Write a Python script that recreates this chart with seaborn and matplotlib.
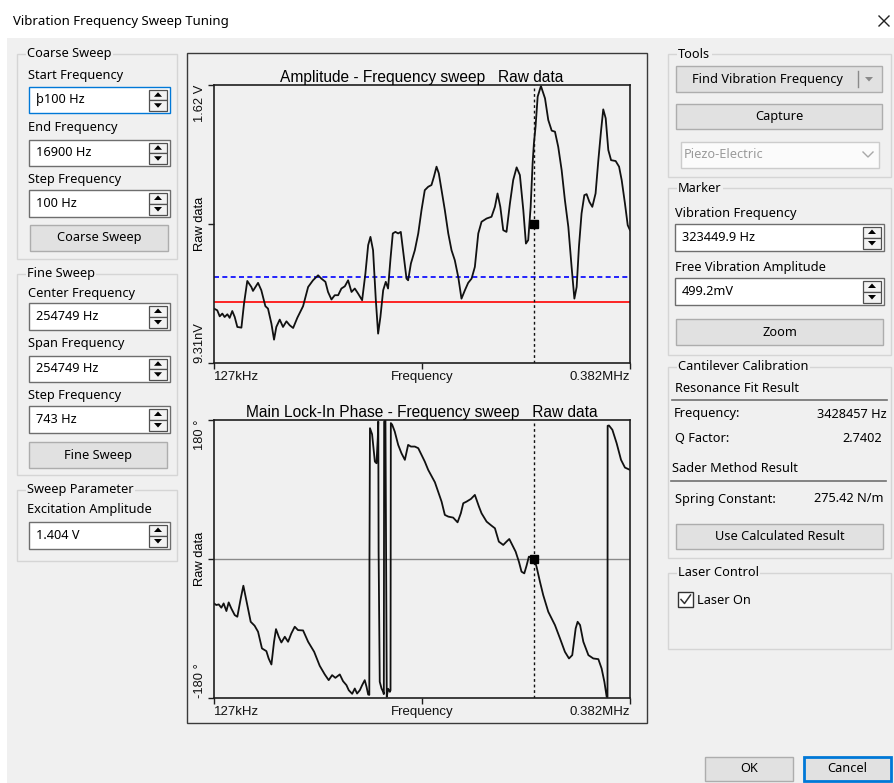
import numpy as np
import pandas as pd
import matplotlib
matplotlib.use('Agg')
import matplotlib.pyplot as plt
import seaborn as sns
from matplotlib.patches import Rectangle, Polygon

# 진폭 스윕 데이터 (kHz, mV)
amp_freq_khz = [127.0, 129.0, 130.5, 132.1, 133.5, 135.2, 136.6, 138.2, 139.7, 141.3,
                143.8, 145.4, 147.4, 149.9, 150.9, 154.0, 156.0, 158.5, 160.1, 162.2,
                163.8, 165.2, 167.3, 169.3, 171.4, 173.4, 175.5, 178.1, 181.6, 184.7,
                187.7, 190.8, 192.8, 195.3, 196.9, 199.0, 201.0, 203.1, 205.1, 207.2,
                209.2, 211.3, 213.3, 215.3, 217.8, 219.8, 221.5, 222.9, 224.5, 226.2,
                227.6, 229.0, 230.7, 232.3, 233.7, 235.2, 236.6, 238.2, 239.9, 241.5,
                243.6, 245.0, 246.0, 247.7, 250.1, 252.2, 254.2, 256.2, 258.3, 260.3,
                261.8, 263.4, 264.8, 266.5, 268.5, 270.6, 272.6, 274.6, 276.7, 278.7,
                280.8, 282.8, 284.9, 286.9, 289.0, 291.0, 294.1, 297.1, 299.2, 300.8,
                302.5, 304.3, 306.3, 308.4, 310.4, 312.5, 314.5, 316.6, 318.2, 319.6,
                321.1, 322.3, 323.1, 324.1, 325.4, 327.4, 329.9, 331.9, 334.0, 336.0,
                338.0, 340.1, 342.1, 344.2, 346.2, 347.9, 349.3, 350.7, 352.3, 354.0,
                355.4, 357.1, 358.9, 360.9, 362.6, 364.2, 365.6, 367.1, 368.7, 370.4,
                373.2, 375.3, 376.9, 378.9, 380.6, 382.0]
amp_mv = [317, 307, 272, 288, 268, 284, 263, 303, 268, 210,
          206, 346, 478, 443, 420, 467, 424, 331, 317, 229,
          136, 210, 253, 210, 243, 220, 204, 264, 331, 443,
          482, 511, 492, 473, 414, 370, 395, 395, 434, 447,
          482, 414, 434, 405, 366, 521, 687, 735, 657, 366,
          171, 268, 424, 473, 434, 609, 755, 764, 755, 764,
          599, 492, 482, 580, 657, 755, 891, 1007, 1027, 1037,
          1085, 1144, 1105, 1007, 891, 755, 657, 599, 502, 375,
          424, 467, 492, 560, 755, 823, 842, 852, 910, 988,
          910, 774, 764, 930, 1066, 1140, 1095, 891, 696, 716,
          910, 1163, 1280, 1377, 1552, 1614, 1542, 1416, 1354, 1348,
          1260, 1124, 949, 793, 560, 375, 443, 677, 871, 978,
          984, 939, 910, 988, 1182, 1348, 1478, 1426, 1241, 1182,
          1177, 1144, 1066, 930, 803, 774]

# 위상 스윕 데이터 (kHz, degree)
phase_freq_khz = [127.0, 128.4, 129.9, 131.5, 132.9, 134.6, 136.0, 137.6, 139.7, 141.3,
                  143.4, 145.0, 146.8, 149.5, 151.9, 154.0, 156.4, 159.1, 160.5, 162.2,
                  163.8, 165.0, 166.7, 168.3, 170.4, 172.4, 174.4, 176.5, 178.5, 181.6,
                  184.7, 188.4, 191.8, 194.9, 197.3, 199.4, 201.4, 204.1, 206.1, 208.2,
                  209.6, 211.7, 213.3, 214.7, 216.4, 217.8, 219.4, 220.5, 221.5, 222.2,
                  222.3, 222.6, 223.9, 225.6, 226.6, 227.4, 227.7, 227.9, 228.6, 229.7,
                  230.7, 231.1, 231.3, 232.1, 232.5, 232.9, 233.7, 234.8, 235.2, 235.4,
                  236.2, 237.8, 239.9, 241.9, 244.0, 246.0, 247.7, 250.1, 252.2, 254.2,
                  256.2, 258.3, 262.4, 264.4, 266.5, 268.5, 270.6, 273.6, 276.3, 278.3,
                  279.8, 281.8, 284.5, 286.9, 289.4, 291.0, 294.1, 297.1, 299.2, 301.6,
                  304.3, 306.3, 308.0, 309.8, 311.9, 313.9, 315.5, 317.2, 318.6, 320.0,
                  321.7, 323.3, 324.7, 326.8, 328.8, 331.9, 336.0, 339.1, 342.1, 344.6,
                  346.6, 348.7, 349.9, 351.4, 353.4, 356.5, 359.5, 362.6, 364.6, 366.3,
                  367.7, 368.2, 368.3, 369.1, 371.2, 373.8, 376.5, 378.9, 382.0]
phase_deg = [-57.5, -59.6, -58.8, -63.1, -57.5, -67.4, -56.2, -64.0, -72.6, -74.8,
             -51.0, -34.6, -53.2, -81.3, -86.4, -94.2, -115.8, -119.3, -128.8, -136.6,
             -107.2, -90.8, -100.7, -108.1, -100.7, -107.2, -96.4, -87.7, -92.1, -92.5,
             -107.2, -120.2, -138.3, -149.5, -156.9, -150.4, -153.9, -149.5, -158.2, -163.4,
             -169.9, -174.6, -167.7, -174.2, -169.9, -163.4, -156.9, -165.5, -175.5, -176.0,
             -2.0, 169.4, 161.6, 126.2, 124.0, 156.5, 178.0, 9.5, -159.0, -167.7,
             -172.0, -175.0, 178.0, 179.5, 0.0, -178.5, -168.0, -172.0, -170.0, 176.0,
             174.0, 165.0, 147.8, 137.0, 128.4, 147.8, 145.6, 145.6, 143.5, 134.8,
             126.2, 115.4, 99.4, 87.3, 74.3, 57.1, 54.9, 53.6, 47.5, 59.2,
             72.2, 74.3, 77.8, 83.0, 67.9, 59.2, 48.4, 43.2, 39.8, 22.5,
             18.2, 22.5, 25.9, 18.2, 9.5, -3.5, -16.4, -18.6, -8.6, 3.0,
             1.7, 0.0, -9.9, -29.4, -46.7, -68.3, -85.6, -102.9, -120.2, -128.8,
             -124.5, -89.9, -81.3, -85.6, -107.2, -124.5, -128.8, -129.7, -141.8, -159.1,
             -178.5, -179.0, 172.5, 172.9, 167.3, 150.0, 128.4, 118.4, 115.4]

marker_freq_khz = 323.4499
free_amp_mv = 499.2
half_power_mv = 353.0
amp_top_mv = 1620
x_ticks = [127, 254.5, 382]
x_tick_labels = ['127kHz', 'Frequency', '0.382MHz']

amp_df = pd.DataFrame({'freq': amp_freq_khz, 'amp': amp_mv})
phase_df = pd.DataFrame({'freq': phase_freq_khz, 'phase': phase_deg})

W, H = 894, 783
BG = '#f0f0f0'
UI_FONT = ['Noto Sans', 'DejaVu Sans']
PLOT_FONT = ['Liberation Sans', 'DejaVu Sans']
FS = 9.2

fig = plt.figure(figsize=(W / 100, H / 100), dpi=100)
fig.patch.set_facecolor('white')

# 대화상자 전체를 픽셀 좌표로 그리는 축
ui = fig.add_axes([0, 0, 1, 1])
ui.set_xlim(0, W)
ui.set_ylim(H, 0)
ui.axis('off')
ui.add_patch(Rectangle((7, 38), W - 7, H - 38, fc=BG, ec='none'))


def label(x, y, text, ha='left', color='#000000'):
    ui.text(x, y, text, ha=ha, va='center', fontsize=FS, family=UI_FONT, color=color)


def group_box(x0, y0, x1, y1, text):
    ui.add_patch(Rectangle((x0, y0), x1 - x0, y1 - y0, fill=False, ec='#d5d5d5', lw=1))
    ui.text(x0 + 10, y0, text, ha='left', va='center', fontsize=FS, family=UI_FONT,
            bbox=dict(fc=BG, ec='none', pad=1))


def spinner(x0, y0, x1, y1):
    ym = (y0 + y1) / 2
    cx = (x0 + x1) / 2
    for a, b, up in [(y0, ym, True), (ym, y1, False)]:
        ui.add_patch(Rectangle((x0, a), x1 - x0, b - a, fc='#f2f2f2', ec='#505050', lw=0.9))
        cy = (a + b) / 2
        if up:
            pts = [(cx - 4, cy + 2), (cx + 4, cy + 2), (cx, cy - 2.5)]
        else:
            pts = [(cx - 4, cy - 2), (cx + 4, cy - 2), (cx, cy + 2.5)]
        ui.add_patch(Polygon(pts, closed=True, fc='black', ec='none'))


def field(x0, y0, x1, y1, value, focused=False):
    ec = '#0078d7' if focused else '#6e6e6e'
    ui.add_patch(Rectangle((x0, y0), x1 - x0, y1 - y0, fc='white', ec=ec, lw=1))
    label(x0 + 7, (y0 + y1) / 2, value)
    spinner(x1 - 21, y0 + 2.5, x1 - 3, y1 - 2.5)


def button(x0, y0, x1, y1, text, ec='#adadad', lw=1, tx=None):
    ui.add_patch(Rectangle((x0, y0), x1 - x0, y1 - y0, fc='#e1e1e1', ec=ec, lw=lw))
    if tx is None:
        tx = (x0 + x1) / 2
    ui.text(tx, (y0 + y1) / 2, text, ha='center', va='center', fontsize=FS, family=UI_FONT)


# 제목 표시줄
ui.text(13, 21, 'Vibration Frequency Sweep Tuning', ha='left', va='center',
        fontsize=9.5, family=UI_FONT)
ui.plot([879, 889], [16, 26], color='#222222', lw=1)
ui.plot([879, 889], [26, 16], color='#222222', lw=1)

# 왼쪽 패널
group_box(17, 54, 177, 259, 'Coarse Sweep')
label(28, 76, 'Start Frequency')
field(29, 87, 170, 113, 'þ100 Hz', focused=True)
label(28, 128, 'End Frequency')
field(29, 140, 170, 166, '16900 Hz')
label(28, 179, 'Step Frequency')
field(29, 190, 170, 217, '100 Hz')
button(30, 225, 168, 251, 'Coarse Sweep')

group_box(17, 274, 177, 475, 'Fine Sweep')
label(28, 293, 'Center Frequency')
field(29, 303, 170, 330, '254749 Hz')
label(28, 343, 'Span Frequency')
field(29, 356, 170, 382, '254749 Hz')
label(28, 396, 'Step Frequency')
field(29, 406, 170, 433, '743 Hz')
button(29, 442, 167, 468, 'Fine Sweep')

group_box(17, 490, 177, 561, 'Sweep Parameter')
label(27, 510, 'Excitation Amplitude')
field(29, 522, 170, 549, '1.404 V')

# 그래프 테두리
ui.add_patch(Rectangle((187, 53), 460, 670, fill=False, ec='#3a3a3a', lw=1))

# 오른쪽 패널
group_box(668, 54, 891, 177, 'Tools')
button(676, 66, 882, 92, 'Find Vibration Frequency', tx=767)
ui.plot([858, 858], [71, 87], color='#8a8a8a', lw=1)
ui.add_patch(Polygon([(865, 77), (873, 77), (869, 81.5)], closed=True, fc='#8a8a8a', ec='none'))
button(676, 104, 882, 129, 'Capture')
ui.add_patch(Rectangle((681, 142), 198, 26, fc='#fbfbfb', ec='#cccccc', lw=1))
label(684, 155, 'Piezo-Electric', color='#9a9a9a')
ui.plot([863, 868, 873], [152, 157, 152], color='#a8a8a8', lw=1)

group_box(668, 188, 891, 355, 'Marker')
label(675, 213, 'Vibration Frequency')
field(675, 224, 884, 251, '323449.9 Hz')
label(675, 267, 'Free Vibration Amplitude')
field(675, 278, 884, 305, '499.2mV')
button(676, 319, 883, 345, 'Zoom')

group_box(668, 367, 891, 558, 'Cantilever Calibration')
label(675, 389, 'Resonance Fit Result')
ui.plot([672, 887], [400, 400], color='#707070', lw=1.2)
label(674, 414, 'Frequency:')
label(887, 414, '3428457 Hz', ha='right')
label(675, 439, 'Q Factor:')
label(882, 439, '2.7402', ha='right')
label(672, 468, 'Sader Method Result')
ui.plot([671, 886], [481, 481], color='#707070', lw=1.2)
label(675, 499, 'Spring Constant:')
label(884, 499, '275.42 N/m', ha='right')
button(676, 524, 883, 549, 'Use Calculated Result')

group_box(668, 573, 891, 649, 'Laser Control')
ui.add_patch(Rectangle((678, 592), 15, 15, fc='white', ec='#333333', lw=1))
ui.plot([681, 684.5, 690.5], [599.5, 603.5, 595], color='#333333', lw=1.1)
label(697, 600, 'Laser On')

button(705, 757, 793, 781, 'OK')
button(804, 757, 891, 781, 'Cancel', ec='#0078d7', lw=2)


def px_axes(x0, y0, x1, y1):
    return fig.add_axes([x0 / W, 1 - y1 / H, (x1 - x0) / W, (y1 - y0) / H])


def style_axes(ax, title, yticks, ylabels):
    ax.set_facecolor(BG)
    for s in ax.spines.values():
        s.set_color('#1e1e1e')
        s.set_linewidth(1.2)
    ax.set_xlim(x_ticks[0], x_ticks[-1])
    ax.set_xticks(x_ticks)
    ax.set_xticklabels(x_tick_labels, fontsize=9.5, family=PLOT_FONT)
    xl = ax.get_xticklabels()
    xl[0].set_ha('left')
    xl[-1].set_ha('right')
    ax.set_yticks(yticks)
    ax.set_yticklabels(ylabels, fontsize=9.3, family=PLOT_FONT, rotation=90)
    yl = ax.get_yticklabels()
    yl[0].set_va('bottom')
    yl[-1].set_va('top')
    ax.tick_params(axis='both', direction='out', length=4, width=1, color='#1e1e1e',
                   labelcolor='#111111')
    ax.tick_params(axis='x', pad=2)
    ax.tick_params(axis='y', pad=2)
    ax.set_title(title, fontsize=11.2, family=PLOT_FONT, pad=2.5)
    ax.set_xlabel('')
    ax.set_ylabel('Raw data', fontsize=9.3, family=PLOT_FONT)
    ax.yaxis.set_label_coords(-0.019, 0.5)


# 진폭 그래프
ax1 = px_axes(214, 85, 630, 363)
ax1.axhline(free_amp_mv, color='#0000ff', lw=1.2, ls=(0, (3, 2)))
ax1.axhline(half_power_mv, color='#ff0000', lw=1.2)
sns.lineplot(data=amp_df, x='freq', y='amp', ax=ax1, color='#111111', lw=1.3,
             estimator=None, sort=False)
ax1.axvline(marker_freq_khz, color='#111111', lw=1, ls=(0, (2, 2)))
ax1.plot([marker_freq_khz], [amp_top_mv / 2], marker='s', ms=5.5, color='black')
ax1.set_ylim(0, amp_top_mv)
style_axes(ax1, 'Amplitude - Frequency sweep   Raw data',
           [0, amp_top_mv / 2, amp_top_mv], ['9.31nV', '', '1.62 V'])

# 위상 그래프
ax2 = px_axes(214, 420, 630, 698)
ax2.axhline(0, color='#8a8a8a', lw=1)
sns.lineplot(data=phase_df, x='freq', y='phase', ax=ax2, color='#111111', lw=1.3,
             estimator=None, sort=False)
ax2.axvline(marker_freq_khz, color='#111111', lw=1, ls=(0, (2, 2)))
ax2.plot([marker_freq_khz], [0], marker='s', ms=5.5, color='black')
ax2.set_ylim(-180, 180)
style_axes(ax2, 'Main Lock-In Phase - Frequency sweep   Raw data',
           [-180, 0, 180], ['-180 °', '', '180 °'])

fig.savefig('out.png', dpi=100, facecolor=fig.get_facecolor())
